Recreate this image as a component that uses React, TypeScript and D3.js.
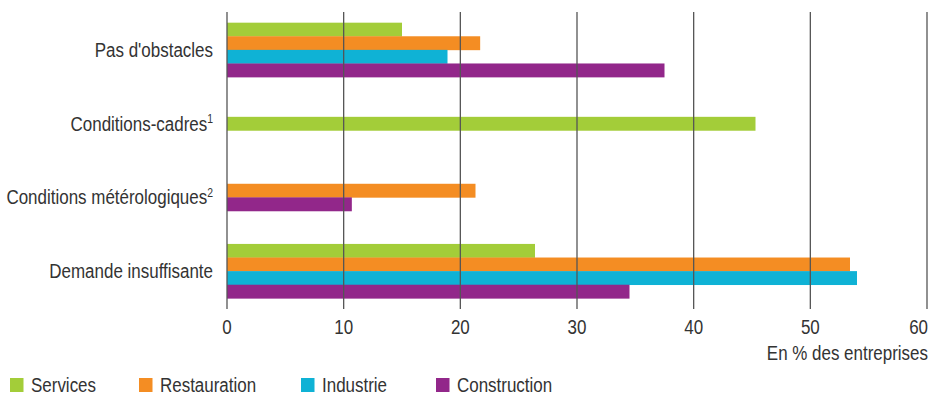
import React from "react";
import * as d3 from "d3";

const categories = ["Pas d'obstacles", "Conditions-cadres", "Conditions métérologiques", "Demande insuffisante"];
const superscripts = ["", "1", "2", ""];
const seriesNames = ["Services", "Restauration", "Industrie", "Construction"];
const seriesColors = ["#a3cd39", "#f48d23", "#0fb2d5", "#92278a"];
const services = [15.0, 45.3, null, 26.4];
const restauration = [21.7, null, 21.3, 53.4];
const industrie = [18.9, null, null, 54.0];
const construction = [37.5, null, 10.7, 34.5];
const xTicks = [0, 10, 20, 30, 40, 50, 60];
const xTitle = "En % des entreprises";

const W = 928;
const H = 396;
const FONT = "'Liberation Sans', Arial, sans-serif";
const FS = 19.5;
const SX = 0.87;

function T({ x, y, anchor = "start", children, size = FS }: any) {
  return (
    <text
      transform={`translate(${x},${y}) scale(${SX},1)`}
      textAnchor={anchor}
      fontSize={size}
      fill="#333"
    >
      {children}
    </text>
  );
}

export default function App() {
  const seriesValues = [services, restauration, industrie, construction];
  const x = d3.scaleLinear().domain([0, 60]).range([227, 927]);
  const y = d3.scaleBand<string>().domain(categories).range([13, 308]).padding(0);
  const barH = 13.6;
  const gridTop = 12;
  const gridBottom = 309;

  const bars: { key: string; x: number; y: number; w: number; color: string }[] = [];
  categories.forEach((c, ci) => {
    const present = seriesValues
      .map((vals, si) => ({ v: vals[ci], si }))
      .filter((d) => d.v !== null && d.v !== undefined);
    const center = (y(c) as number) + y.bandwidth() / 2;
    const start = center - (present.length * barH) / 2;
    present.forEach((d, k) => {
      bars.push({
        key: `${ci}-${d.si}`,
        x: x(0),
        y: start + k * barH,
        w: x(d.v as number) - x(0),
        color: seriesColors[d.si],
      });
    });
  });

  const legendX = [10, 139, 301, 436];

  return (
    <svg
      width={W}
      height={H}
      style={{ position: "absolute", left: 0, top: 0, display: "block", background: "#fff" }}
      fontFamily={FONT}
    >
      {bars.map((b) => (
        <rect key={b.key} x={b.x} y={b.y} width={Math.max(0, b.w)} height={barH + 0.3} fill={b.color} />
      ))}
      {xTicks.map((t) => (
        <line key={t} x1={x(t)} x2={x(t)} y1={gridTop} y2={gridBottom} stroke="#555" strokeWidth={1.3} />
      ))}
      {xTicks.map((t, i) => (
        <T
          key={"l" + t}
          x={i === xTicks.length - 1 ? W : x(t)}
          y={333.5}
          anchor={i === xTicks.length - 1 ? "end" : "middle"}
        >
          {t}
        </T>
      ))}
      <T x={W} y={359.5} anchor="end">
        {xTitle}
      </T>
      {categories.map((c, i) => (
        <T key={c} x={213} y={(y(c) as number) + y.bandwidth() / 2 + 7} anchor="end">
          {c}
          {superscripts[i] && (
            <tspan fontSize={12} dy={-7.5}>
              {superscripts[i]}
            </tspan>
          )}
        </T>
      ))}
      {seriesNames.map((s, i) => (
        <g key={s}>
          <rect x={legendX[i]} y={378} width={13.5} height={14} fill={seriesColors[i]} />
          <T x={legendX[i] + 21} y={391.5}>
            {s}
          </T>
        </g>
      ))}
    </svg>
  );
}
